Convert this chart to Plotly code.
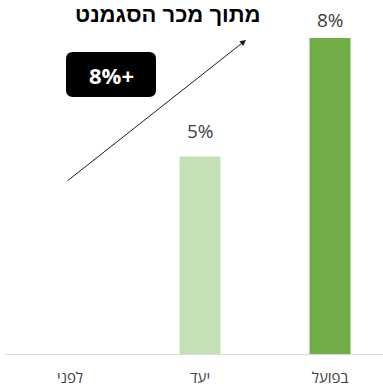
import plotly.graph_objects as go

categories = ["לפני", "יעד", "בפועל"]
values = [0, 5, 8]
value_labels = ["", "5%", "8%"]
bar_colors = ["#c5e0b4", "#c5e0b4", "#70ad47"]
title_text = "מתוך מכר הסגמנט"
growth_label = "8%+"

W, H = 383, 388
ML, MR, MT, MB = 5, 0, 0, 34
unit_px = 130.0           # pixels per category slot
val_px = 39.5             # pixels per percentage point
plot_w = W - ML - MR
plot_h = H - MT - MB

x_range = [-0.5, -0.5 + plot_w / unit_px]
y_range = [0, plot_h / val_px]


def px_to_x(px):
    return (px - ML) / unit_px - 0.5


def px_to_y(py):
    return (H - MB - py) / val_px


fig = go.Figure()
fig.add_trace(go.Bar(
    x=list(range(len(categories))),
    y=values,
    width=0.315,
    marker=dict(color=bar_colors, line=dict(width=0)),
    hoverinfo="skip",
))

annotations = []

# value labels above the bars, kept inside the top of the chart
for i, (v, lab) in enumerate(zip(values, value_labels)):
    if not lab:
        continue
    bar_top_from_top = plot_h - v * val_px
    center_from_top = max(bar_top_from_top - 25.5, 20)
    annotations.append(dict(
        x=i, y=v, xref="x", yref="y", text=lab, showarrow=False,
        yanchor="middle", yshift=bar_top_from_top - center_from_top,
        font=dict(size=19, color="#404040", family="Open Sans"),
    ))

# rounded label box for the growth badge
x0, x1 = px_to_x(66), px_to_x(156)
y0, y1 = px_to_y(97), px_to_y(52)
rx, ry = 7 / unit_px, 7 / val_px
path = (
    f"M {x0+rx},{y0} L {x1-rx},{y0} Q {x1},{y0} {x1},{y0+ry} "
    f"L {x1},{y1-ry} Q {x1},{y1} {x1-rx},{y1} "
    f"L {x0+rx},{y1} Q {x0},{y1} {x0},{y1-ry} "
    f"L {x0},{y0+ry} Q {x0},{y0} {x0+rx},{y0} Z"
)
fig.add_shape(type="path", path=path, xref="x", yref="y",
              fillcolor="black", line=dict(width=0))

annotations += [
    dict(x=(x0 + x1) / 2, y=(y0 + y1) / 2, xref="x", yref="y",
         text=f"<b>{growth_label}</b>", showarrow=False,
         font=dict(size=22, color="white", family="Open Sans")),
    dict(x=px_to_x(246), y=px_to_y(40), xref="x", yref="y",
         ax=px_to_x(66), ay=px_to_y(182), axref="x", ayref="y",
         text="", showarrow=True, arrowhead=2, arrowsize=1.2,
         arrowwidth=1, arrowcolor="#1a1a1a"),
    dict(x=(168 - ML) / plot_w, y=1, xref="paper", yref="paper",
         text=f"<b>{title_text}</b>", showarrow=False, yanchor="top",
         font=dict(size=22, color="black", family="Liberation Sans")),
]

fig.update_layout(
    width=W, height=H,
    margin=dict(l=ML, r=MR, t=MT, b=MB),
    paper_bgcolor="white", plot_bgcolor="white",
    showlegend=False,
    annotations=annotations,
    xaxis=dict(
        range=x_range,
        tickmode="array",
        tickvals=list(range(len(categories))),
        ticktext=categories,
        tickfont=dict(size=15, color="#404040", family="Open Sans"),
        ticklabelstandoff=10,
        showgrid=False, zeroline=False,
        showline=True, linecolor="#d9d9d9", linewidth=1,
        ticks="", ticklen=0,
    ),
    yaxis=dict(range=y_range, visible=False, showgrid=False, zeroline=False),
)

fig.write_html("out.html")
